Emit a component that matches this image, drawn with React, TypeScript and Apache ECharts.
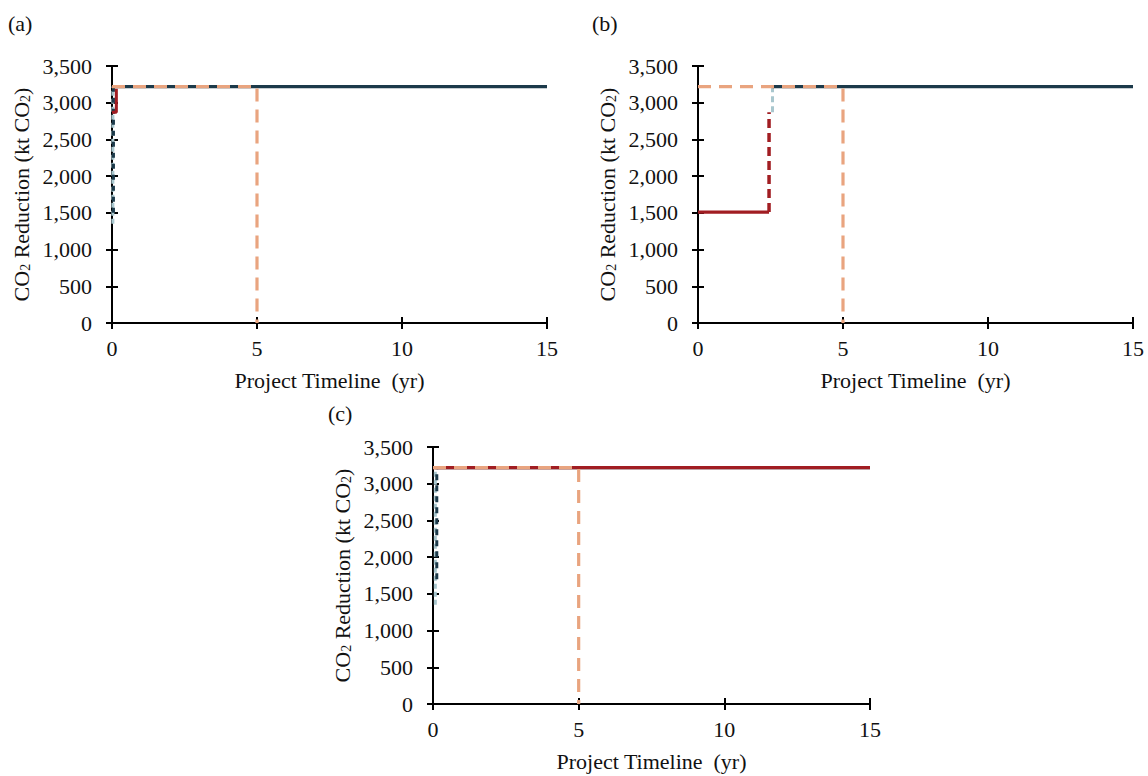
import React, { useEffect, useRef } from "react";
import * as echarts from "echarts";

// ---- data (x = project year, y = kt CO2) ----
const xTicks = [0, 5, 10, 15];
const yMax = 3500;
const yStep = 500;
const xMax = 15;

// Panel (a)
const aLightBlue = [[0.03, 1350], [0.03, 3220]];
const aNavyRise = [[0.05, 1500], [0.05, 3220]];
const aNavyFlat = [[0.05, 3220], [15, 3220]];
const aRed = [[0, 2870], [0.15, 2870], [0.15, 3190]];
const aOrange = [[0, 3220], [5, 3220], [5, 0]];

// Panel (b)
const bRedFlat = [[0, 1510], [2.45, 1510]];
const bRedRise = [[2.45, 1510], [2.45, 2870]];
const bLightBlue = [[2.57, 2870], [2.57, 3220]];
const bNavyFlat = [[2.57, 3220], [15, 3220]];
const bOrange = [[0, 3220], [5, 3220], [5, 0]];

// Panel (c)
const cLightBlue = [[0.08, 1350], [0.08, 3220]];
const cNavyRise = [[0.13, 1700], [0.13, 3220]];
const cNavyFlat = [[0.13, 3220], [15, 3220]];
const cRedFlat = [[0, 3220], [15, 3220]];
const cOrange = [[0, 3220], [5, 3220], [5, 0]];

const panelLabels = ["(a)", "(b)", "(c)"];

const NAVY = "#1c3a4a";
const ORANGE = "#e9a47f";
const RED = "#a11d22";
const LIGHT = "#a9c7ce";
const FONT = "'Liberation Serif', 'Times New Roman', serif";
const FS = 22;

export default function App() {
  const ref = useRef<HTMLDivElement>(null);
  useEffect(() => {
    if (!ref.current) return;
    const chart = echarts.init(ref.current, null, { renderer: "svg" });

    const grids = [
      { left: 112, top: 66, width: 435, height: 257 },
      { left: 698, top: 66, width: 435, height: 257 },
      { left: 433, top: 447, width: 437, height: 257 },
    ];

    const xAxes: any[] = [];
    const yAxes: any[] = [];
    grids.forEach((_, i) => {
      xAxes.push({
        type: "value", gridIndex: i, min: 0, max: xMax, interval: 5,
        axisLine: { onZero: false, lineStyle: { color: "#000", width: 2 } },
        axisTick: { inside: false, length: 6, lineStyle: { color: "#000", width: 2 } },
        splitLine: { show: false },
        axisLabel: { color: "#111", fontFamily: FONT, fontSize: FS, margin: 14,
          formatter: (v: number) => (xTicks.includes(v) ? String(v) : "") },
        name: "Project Timeline  (yr)", nameLocation: "middle", nameGap: 46,
        nameTextStyle: { color: "#111", fontFamily: FONT, fontSize: FS },
      });
      xAxes.push({
        type: "value", gridIndex: i, min: 0, max: xMax, interval: 5, position: "bottom",
        axisLine: { show: false },
        axisTick: { inside: true, length: 6, lineStyle: { color: "#000", width: 2 } },
        splitLine: { show: false }, axisLabel: { show: false },
      });
      yAxes.push({
        type: "value", gridIndex: i, min: 0, max: yMax, interval: yStep,
        axisLine: { show: true, onZero: false, lineStyle: { color: "#000", width: 2 } },
        axisTick: { show: true, inside: false, length: 6, lineStyle: { color: "#000", width: 2 } },
        splitLine: { show: false },
        axisLabel: { color: "#111", fontFamily: FONT, fontSize: FS, margin: 20,
          formatter: (v: number) => v.toLocaleString("en-US") },
        name: "{n|CO}{s|2}{n| Reduction (kt CO}{s|2}{n|)}",
        nameLocation: "middle", nameGap: 80, nameRotate: 90,
        nameTextStyle: {
          color: "#111", fontFamily: FONT, fontSize: FS,
          rich: {
            n: { fontFamily: FONT, fontSize: FS, color: "#111", verticalAlign: "bottom", lineHeight: 26 },
            s: { fontFamily: FONT, fontSize: 14, color: "#111", verticalAlign: "bottom", lineHeight: 11 },
          },
        },
      });
      yAxes.push({
        type: "value", gridIndex: i, min: 0, max: yMax, interval: yStep, position: "left",
        axisLine: { show: false },
        axisTick: { show: true, inside: true, length: 6, lineStyle: { color: "#000", width: 2 } },
        splitLine: { show: false }, axisLabel: { show: false },
      });
    });

    const mk = (panel: number, data: number[][], color: string, width: number, type: any, z: number) => ({
      type: "line",
      xAxisIndex: panel * 2,
      yAxisIndex: panel * 2,
      data,
      showSymbol: false,
      symbol: "none",
      lineStyle: { color, width, type },
      z,
      silent: true,
    });

    const series = [
      mk(0, aLightBlue, LIGHT, 3, [5, 3], 2),
      mk(0, aNavyRise, NAVY, 3, [5, 6], 3),
      mk(0, aNavyFlat, NAVY, 3.2, "solid", 3),
      mk(0, aRed, RED, 3, "solid", 4),
      mk(0, aOrange, ORANGE, 3.2, [13, 8], 5),

      mk(1, bRedFlat, RED, 3.2, "solid", 4),
      mk(1, bRedRise, RED, 3.5, [9, 5], 4),
      mk(1, bLightBlue, LIGHT, 3, [6, 4], 2),
      mk(1, bNavyFlat, NAVY, 3.2, "solid", 3),
      mk(1, bOrange, ORANGE, 3.2, [13, 8], 5),

      mk(2, cLightBlue, LIGHT, 3, [5, 3], 2),
      mk(2, cNavyRise, NAVY, 3, [6, 5], 3),
      mk(2, cNavyFlat, NAVY, 3.2, "solid", 3),
      mk(2, cRedFlat, RED, 3.2, "solid", 4),
      mk(2, cOrange, ORANGE, 3.2, [13, 8], 5),
    ];

    const labelPos = [
      { left: 8, top: 12 },
      { left: 592, top: 12 },
      { left: 328, top: 402 },
    ];

    chart.setOption({
      animation: false,
      backgroundColor: "#fff",
      title: panelLabels.map((t, i) => ({
        text: t, left: labelPos[i].left, top: labelPos[i].top,
        textStyle: { fontFamily: FONT, fontSize: FS, fontWeight: "normal", color: "#111" },
        padding: 0,
      })),
      grid: grids,
      xAxis: xAxes,
      yAxis: yAxes,
      series,
    });
    return () => chart.dispose();
  }, []);
  return (
    <div
      ref={ref}
      style={{ position: "absolute", left: 0, top: 0, width: 1148, height: 776 }}
    />
  );
}
